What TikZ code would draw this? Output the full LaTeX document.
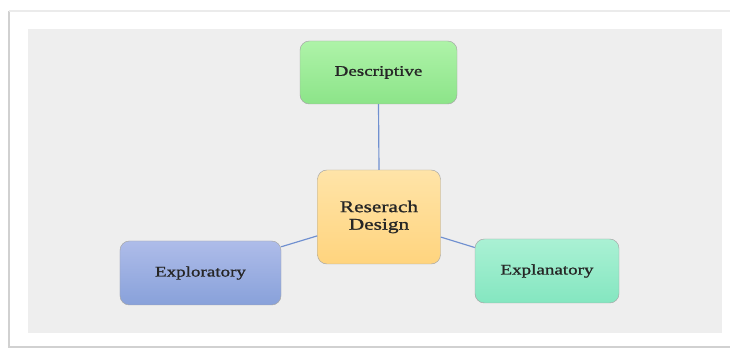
\documentclass[tikz,border=0pt]{standalone}
\usepackage{fontspec}
\setmainfont[FakeStretch=1.3, FakeBold=1.2]{Liberation Serif}
\definecolor{cpanel}{HTML}{EEEEEE}
\definecolor{cline}{HTML}{7090D0}
\definecolor{cgreentop}{HTML}{AEF3A8}
\definecolor{cgreenbot}{HTML}{8CE489}
\definecolor{corangetop}{HTML}{FFE4A8}
\definecolor{corangebot}{HTML}{FFD47E}
\definecolor{cbluetop}{HTML}{AEBCE9}
\definecolor{cbluebot}{HTML}{88A1DA}
\definecolor{ctealtop}{HTML}{AAF1D4}
\definecolor{ctealbot}{HTML}{84E6C0}

\begin{document}
\begin{tikzpicture}[x=0.03cm, y=-0.03cm,
  box/.style={draw=black!35, thin, rounded corners=8pt, align=center, text=black!85,
    font=\fontsize{12.5}{15}\selectfont},
  link/.style={draw=cline, line width=1pt}]

  \useasboundingbox (0, 0) rectangle (730, 349);

  % page frame and grey panel
  \fill [white] (0, 0) rectangle (730, 349);
  \draw [black!18, line width=1.5pt] (730, 347) -- (9, 347) -- (9, 11);
  \draw [black!8, line width=1pt] (9, 11) -- (730, 11);
  \fill [cpanel] (28, 29) rectangle (722, 333);

  \node [box, top color=cgreentop, bottom color=cgreenbot, minimum width=4.71cm, minimum height=1.89cm] (desc) at (378.5, 72.5) {Descriptive};
  \node [box, top color=corangetop, bottom color=corangebot, minimum width=3.69cm, minimum height=2.82cm,
    font=\fontsize{14}{15}\selectfont] (design) at (379, 217) {Reserach\\Design};
  \node [box, top color=cbluetop, bottom color=cbluebot, minimum width=4.83cm, minimum height=1.92cm] (explor) at (200.5, 273) {Exploratory};
  \node [box, top color=ctealtop, bottom color=ctealbot, minimum width=4.32cm, minimum height=1.92cm] (explan) at (547, 271) {Explanatory};

  \draw [link] (desc.south) -- (design.north);
  \draw [link] (explor.18) -- (design.197);
  \draw [link] (design.-18) -- (explan.162);

\end{tikzpicture}
\end{document}
